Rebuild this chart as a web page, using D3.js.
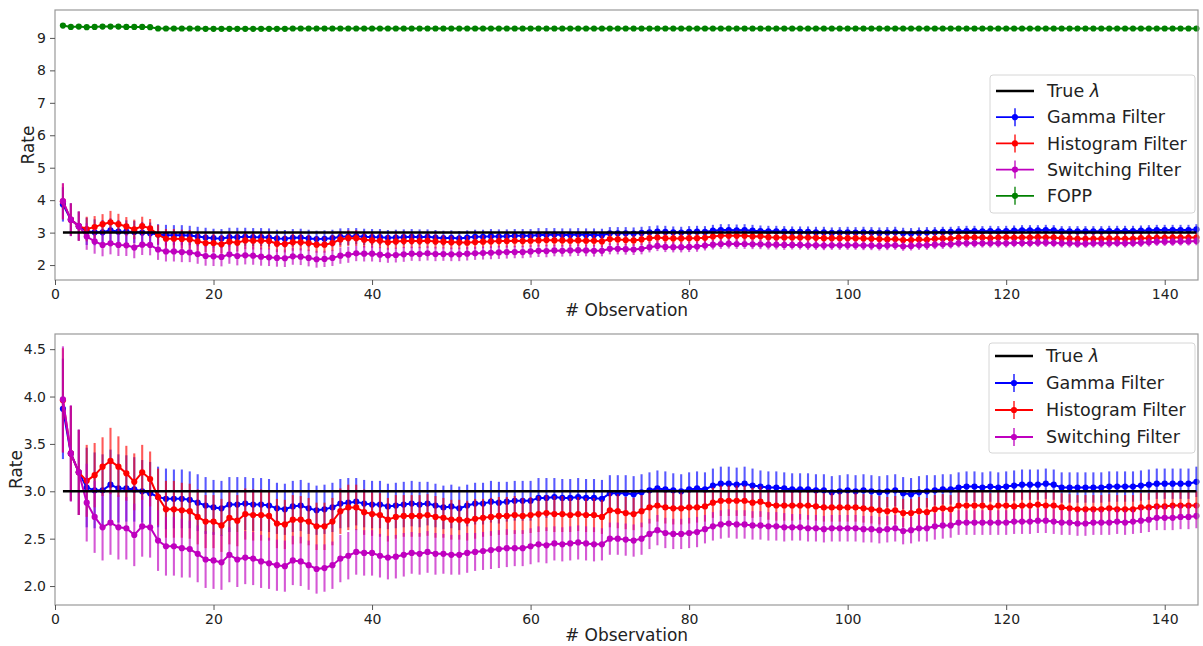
<!DOCTYPE html>
<html>
<head>
<meta charset="utf-8">
<script src="https://cdn.jsdelivr.net/npm/d3@7"></script>
<style>
  body { margin: 0; background: #fff; }
  svg { display: block; font-family: 'DejaVu Sans', sans-serif; }
</style>
</head>
<body>
<div id="chart"></div>
<script>
// Observation index (x axis)
const obs = d3.range(1, 145)

const trueLambda = 3.0

// Gamma filter mean and half error bar
const gammaMean = [
  3.87, 3.40, 3.20, 3.04, 3.01, 3.01, 3.07, 3.03, 3.03, 3.02, 3.00, 2.98,
  2.94, 2.92, 2.92, 2.92, 2.91, 2.88, 2.85, 2.83, 2.82, 2.86, 2.86, 2.87,
  2.86, 2.86, 2.85, 2.82, 2.81, 2.84, 2.85, 2.82, 2.80, 2.81, 2.83, 2.87,
  2.88, 2.89, 2.87, 2.86, 2.86, 2.84, 2.85, 2.86, 2.87, 2.86, 2.87, 2.85,
  2.83, 2.84, 2.82, 2.85, 2.87, 2.87, 2.89, 2.88, 2.89, 2.90, 2.90, 2.90,
  2.93, 2.93, 2.94, 2.93, 2.93, 2.94, 2.93, 2.93, 2.92, 2.98, 2.98, 2.98,
  2.97, 2.99, 3.01, 3.03, 3.02, 3.01, 3.00, 3.02, 3.03, 3.02, 3.06, 3.08,
  3.08, 3.07, 3.08, 3.06, 3.05, 3.04, 3.04, 3.03, 3.02, 3.02, 3.02, 3.01,
  3.01, 2.99, 3.00, 3.01, 3.00, 3.01, 3.00, 2.99, 3.00, 3.01, 2.98, 2.97,
  2.99, 3.00, 3.01, 3.02, 3.02, 3.04, 3.05, 3.05, 3.04, 3.05, 3.04, 3.05,
  3.06, 3.07, 3.07, 3.07, 3.08, 3.07, 3.04, 3.04, 3.04, 3.04, 3.04, 3.04,
  3.05, 3.05, 3.05, 3.05, 3.06, 3.07, 3.08, 3.08, 3.08, 3.08, 3.08, 3.10
]
const gammaErr = [
  0.53, 0.50, 0.45, 0.42, 0.40, 0.38, 0.37, 0.36, 0.35, 0.34, 0.33, 0.33,
  0.32, 0.32, 0.31, 0.31, 0.30, 0.30, 0.30, 0.29, 0.29, 0.29, 0.29, 0.28,
  0.28, 0.28, 0.28, 0.27, 0.27, 0.27, 0.27, 0.27, 0.26, 0.26, 0.26, 0.26,
  0.26, 0.25, 0.25, 0.25, 0.25, 0.24, 0.24, 0.24, 0.24, 0.24, 0.23, 0.23,
  0.23, 0.23, 0.23, 0.22, 0.22, 0.22, 0.22, 0.22, 0.21, 0.21, 0.21, 0.21,
  0.21, 0.21, 0.20, 0.20, 0.20, 0.20, 0.20, 0.20, 0.20, 0.19, 0.19, 0.19,
  0.19, 0.19, 0.19, 0.19, 0.19, 0.18, 0.18, 0.18, 0.18, 0.18, 0.18, 0.18,
  0.18, 0.18, 0.18, 0.18, 0.17, 0.17, 0.17, 0.17, 0.17, 0.17, 0.17, 0.17,
  0.17, 0.17, 0.17, 0.17, 0.17, 0.17, 0.17, 0.17, 0.17, 0.17, 0.17, 0.17,
  0.17, 0.17, 0.16, 0.16, 0.16, 0.16, 0.16, 0.16, 0.16, 0.16, 0.16, 0.16,
  0.16, 0.16, 0.16, 0.16, 0.16, 0.16, 0.16, 0.16, 0.16, 0.16, 0.16, 0.16,
  0.16, 0.16, 0.16, 0.16, 0.16, 0.16, 0.16, 0.16, 0.16, 0.16, 0.16, 0.16
]

// Histogram filter
const histMean = [
  3.96, 3.40, 3.20, 3.11, 3.17, 3.26, 3.32, 3.26, 3.19, 3.10, 3.20, 3.13,
  2.94, 2.81, 2.81, 2.80, 2.79, 2.73, 2.68, 2.68, 2.64, 2.72, 2.69, 2.76,
  2.75, 2.75, 2.74, 2.66, 2.65, 2.70, 2.70, 2.68, 2.63, 2.63, 2.68, 2.79,
  2.83, 2.83, 2.78, 2.76, 2.75, 2.70, 2.73, 2.74, 2.74, 2.74, 2.75, 2.73,
  2.72, 2.70, 2.70, 2.69, 2.71, 2.72, 2.73, 2.74, 2.74, 2.75, 2.74, 2.75,
  2.76, 2.77, 2.76, 2.76, 2.75, 2.76, 2.75, 2.75, 2.73, 2.80, 2.79, 2.77,
  2.76, 2.79, 2.83, 2.85, 2.83, 2.82, 2.82, 2.83, 2.83, 2.84, 2.88, 2.90,
  2.90, 2.90, 2.90, 2.88, 2.89, 2.86, 2.85, 2.85, 2.85, 2.85, 2.85, 2.84,
  2.83, 2.83, 2.83, 2.83, 2.83, 2.82, 2.81, 2.80, 2.79, 2.80, 2.77, 2.77,
  2.79, 2.78, 2.81, 2.82, 2.81, 2.85, 2.85, 2.85, 2.85, 2.83, 2.85, 2.85,
  2.84, 2.85, 2.85, 2.86, 2.85, 2.85, 2.83, 2.82, 2.81, 2.81, 2.81, 2.81,
  2.82, 2.81, 2.81, 2.81, 2.83, 2.83, 2.84, 2.84, 2.85, 2.85, 2.85, 2.85
]
const histErr = [
  0.55, 0.50, 0.45, 0.38, 0.34, 0.31, 0.35, 0.32, 0.29, 0.30, 0.29, 0.29,
  0.30, 0.30, 0.30, 0.29, 0.29, 0.29, 0.28, 0.28, 0.28, 0.28, 0.27, 0.27,
  0.27, 0.27, 0.26, 0.26, 0.26, 0.26, 0.25, 0.25, 0.25, 0.25, 0.25, 0.24,
  0.24, 0.24, 0.24, 0.23, 0.23, 0.23, 0.23, 0.22, 0.22, 0.22, 0.22, 0.22,
  0.21, 0.21, 0.21, 0.21, 0.21, 0.20, 0.20, 0.20, 0.20, 0.20, 0.19, 0.19,
  0.19, 0.19, 0.19, 0.19, 0.18, 0.18, 0.18, 0.18, 0.18, 0.18, 0.18, 0.17,
  0.17, 0.17, 0.17, 0.17, 0.17, 0.17, 0.17, 0.17, 0.16, 0.16, 0.16, 0.16,
  0.16, 0.16, 0.16, 0.16, 0.16, 0.16, 0.16, 0.16, 0.16, 0.15, 0.15, 0.15,
  0.15, 0.15, 0.15, 0.15, 0.15, 0.15, 0.15, 0.15, 0.15, 0.15, 0.15, 0.15,
  0.15, 0.15, 0.15, 0.15, 0.15, 0.15, 0.15, 0.15, 0.15, 0.15, 0.15, 0.15,
  0.15, 0.15, 0.15, 0.15, 0.15, 0.15, 0.15, 0.15, 0.15, 0.15, 0.15, 0.15,
  0.15, 0.15, 0.15, 0.15, 0.15, 0.15, 0.15, 0.15, 0.15, 0.15, 0.15, 0.15
]

// Switching filter
const switchMean = [
  3.97, 3.40, 3.20, 2.88, 2.73, 2.62, 2.67, 2.62, 2.61, 2.54, 2.63, 2.62,
  2.48, 2.42, 2.42, 2.40, 2.39, 2.34, 2.28, 2.27, 2.25, 2.33, 2.28, 2.30,
  2.29, 2.26, 2.24, 2.22, 2.21, 2.27, 2.26, 2.22, 2.18, 2.19, 2.22, 2.29,
  2.32, 2.36, 2.35, 2.35, 2.32, 2.30, 2.31, 2.33, 2.35, 2.34, 2.36, 2.34,
  2.34, 2.33, 2.33, 2.35, 2.36, 2.37, 2.38, 2.39, 2.40, 2.40, 2.40, 2.42,
  2.44, 2.43, 2.45, 2.44, 2.45, 2.46, 2.45, 2.44, 2.44, 2.50, 2.50, 2.49,
  2.48, 2.50, 2.55, 2.59, 2.56, 2.55, 2.55, 2.56, 2.57, 2.60, 2.63, 2.65,
  2.66, 2.65, 2.65, 2.64, 2.64, 2.63, 2.63, 2.62, 2.62, 2.62, 2.61, 2.61,
  2.60, 2.61, 2.61, 2.61, 2.61, 2.60, 2.60, 2.59, 2.60, 2.61, 2.58, 2.59,
  2.61, 2.61, 2.63, 2.64, 2.64, 2.67, 2.67, 2.67, 2.67, 2.67, 2.67, 2.67,
  2.68, 2.68, 2.68, 2.69, 2.69, 2.68, 2.67, 2.67, 2.66, 2.66, 2.67, 2.67,
  2.67, 2.68, 2.67, 2.68, 2.69, 2.70, 2.72, 2.72, 2.72, 2.73, 2.73, 2.74
]
const switchErr = [
  0.56, 0.51, 0.45, 0.41, 0.38, 0.35, 0.34, 0.34, 0.33, 0.33, 0.32, 0.32,
  0.32, 0.31, 0.31, 0.31, 0.30, 0.30, 0.30, 0.30, 0.29, 0.29, 0.29, 0.28,
  0.28, 0.28, 0.27, 0.27, 0.27, 0.26, 0.26, 0.26, 0.26, 0.25, 0.25, 0.25,
  0.25, 0.24, 0.24, 0.24, 0.23, 0.23, 0.23, 0.23, 0.22, 0.22, 0.22, 0.22,
  0.21, 0.21, 0.21, 0.21, 0.20, 0.20, 0.20, 0.20, 0.20, 0.19, 0.19, 0.19,
  0.19, 0.19, 0.18, 0.18, 0.18, 0.18, 0.18, 0.18, 0.17, 0.17, 0.17, 0.17,
  0.17, 0.17, 0.16, 0.16, 0.16, 0.16, 0.16, 0.16, 0.16, 0.15, 0.15, 0.15,
  0.15, 0.15, 0.15, 0.15, 0.15, 0.15, 0.15, 0.15, 0.14, 0.14, 0.14, 0.14,
  0.14, 0.14, 0.14, 0.14, 0.14, 0.14, 0.14, 0.14, 0.14, 0.14, 0.14, 0.14,
  0.14, 0.14, 0.14, 0.14, 0.13, 0.13, 0.13, 0.13, 0.13, 0.13, 0.13, 0.13,
  0.13, 0.13, 0.13, 0.13, 0.13, 0.13, 0.13, 0.13, 0.13, 0.13, 0.13, 0.13,
  0.13, 0.13, 0.13, 0.13, 0.13, 0.13, 0.13, 0.13, 0.13, 0.13, 0.13, 0.13
]

// FOPP (top panel only)
const foppMean = [
  9.38, 9.34, 9.35, 9.33, 9.34, 9.35, 9.35, 9.35, 9.34, 9.34, 9.34, 9.33,
  9.29, 9.29, 9.29, 9.29, 9.29, 9.29, 9.28, 9.28, 9.28, 9.28, 9.28, 9.28,
  9.28, 9.28, 9.28, 9.28, 9.28, 9.29, 9.29, 9.29, 9.29, 9.29, 9.29, 9.29,
  9.29, 9.29, 9.29, 9.29, 9.29, 9.29, 9.29, 9.29, 9.29, 9.29, 9.29, 9.29,
  9.29, 9.29, 9.29, 9.29, 9.29, 9.29, 9.29, 9.29, 9.29, 9.29, 9.29, 9.29,
  9.29, 9.29, 9.29, 9.29, 9.29, 9.29, 9.29, 9.29, 9.29, 9.29, 9.29, 9.29,
  9.29, 9.29, 9.29, 9.29, 9.29, 9.29, 9.29, 9.29, 9.29, 9.29, 9.29, 9.29,
  9.29, 9.29, 9.29, 9.29, 9.29, 9.29, 9.29, 9.29, 9.29, 9.29, 9.29, 9.29,
  9.29, 9.29, 9.29, 9.29, 9.29, 9.29, 9.29, 9.29, 9.29, 9.29, 9.29, 9.29,
  9.29, 9.29, 9.29, 9.29, 9.29, 9.29, 9.29, 9.29, 9.29, 9.29, 9.29, 9.29,
  9.29, 9.29, 9.29, 9.29, 9.29, 9.29, 9.29, 9.29, 9.29, 9.29, 9.29, 9.29,
  9.29, 9.29, 9.29, 9.29, 9.29, 9.29, 9.29, 9.29, 9.29, 9.29, 9.29, 9.29
]
const foppErr = obs.map(() => 0.07)

const seriesNames = ['Gamma Filter', 'Histogram Filter', 'Switching Filter', 'FOPP']
const seriesColors = ['#0000ff', '#ff0000', '#bf00bf', '#008000']

const xTicks = [0, 20, 40, 60, 80, 100, 120, 140]
const topYTicks = [2, 3, 4, 5, 6, 7, 8, 9]
const bottomYTicks = [2.0, 2.5, 3.0, 3.5, 4.0, 4.5]

const width = 1203
const height = 646

const svg = d3.select('#chart').append('svg')
  .attr('width', width)
  .attr('height', height)

function makeSeries (names, means, errs) {
  return names.map((name, k) => ({
    name: name,
    color: seriesColors[seriesNames.indexOf(name)],
    data: obs.map((x, i) => ({ x: x, y: means[k][i], e: errs[k][i] }))
  }))
}

function drawPanel (p) {
  const g = svg.append('g')

  const x = d3.scaleLinear().domain([0, 144.2]).range([p.left, p.right])
  const y = d3.scaleLinear().domain(p.yDomain).range([p.bottom, p.top])

  // series: error bars, line, markers
  p.series.forEach(s => {
    const sg = g.append('g')
    sg.selectAll('line.err')
      .data(s.data)
      .enter().append('line')
      .attr('class', 'err')
      .attr('x1', d => x(d.x)).attr('x2', d => x(d.x))
      .attr('y1', d => y(d.y - d.e)).attr('y2', d => y(d.y + d.e))
      .attr('stroke', s.color)
      .attr('stroke-opacity', 0.65)
      .attr('stroke-width', 2.1)

    const line = d3.line().x(d => x(d.x)).y(d => y(d.y))
    sg.append('path')
      .datum(s.data)
      .attr('d', line)
      .attr('fill', 'none')
      .attr('stroke', s.color)
      .attr('stroke-width', 2)

    sg.selectAll('circle')
      .data(s.data)
      .enter().append('circle')
      .attr('cx', d => x(d.x))
      .attr('cy', d => y(d.y))
      .attr('r', 3.1)
      .attr('fill', s.color)
  })

  // true lambda
  g.append('line')
    .attr('x1', x(obs[0])).attr('x2', x(obs[obs.length - 1]))
    .attr('y1', y(trueLambda)).attr('y2', y(trueLambda))
    .attr('stroke', '#000')
    .attr('stroke-width', 2.5)

  // axes frame
  g.append('rect')
    .attr('x', p.left).attr('y', p.top)
    .attr('width', p.right - p.left).attr('height', p.bottom - p.top)
    .attr('fill', 'none')
    .attr('stroke', '#999')
    .attr('stroke-width', 1.2)

  const xAxis = d3.axisBottom(x).tickValues(xTicks).tickSize(5).tickPadding(4)
  const gx = g.append('g')
    .attr('transform', 'translate(0,' + p.bottom + ')')
    .call(xAxis)
  const yAxis = d3.axisLeft(y).tickValues(p.yTicks).tickFormat(p.yFormat).tickSize(5).tickPadding(4)
  const gy = g.append('g')
    .attr('transform', 'translate(' + p.left + ',0)')
    .call(yAxis)
  ;[gx, gy].forEach(a => {
    a.select('.domain').remove()
    a.selectAll('line').attr('stroke', '#555')
    a.selectAll('text').attr('fill', '#222').style('font-size', '14px')
      .style('font-family', "'DejaVu Sans', sans-serif")
  })

  g.append('text')
    .attr('x', (p.left + p.right) / 2)
    .attr('y', p.bottom + 36)
    .attr('text-anchor', 'middle')
    .attr('fill', '#222')
    .style('font-size', '17px')
    .text('# Observation')

  g.append('text')
    .attr('transform', 'translate(' + p.yLabelX + ',' + (p.top + p.bottom) / 2 + ') rotate(-90)')
    .attr('text-anchor', 'middle')
    .attr('fill', '#222')
    .style('font-size', '17px')
    .text('Rate')

  // legend
  const lg = g.append('g').attr('transform', 'translate(' + p.legend.x + ',' + p.legend.y + ')')
  const items = [{ name: 'True', color: '#000', plain: true }].concat(p.series)
  lg.append('rect')
    .attr('width', p.legend.w).attr('height', p.legend.h)
    .attr('rx', 3)
    .attr('fill', '#fff').attr('fill-opacity', 0.85)
    .attr('stroke', '#d6d6d6')
  const row = lg.selectAll('g.item')
    .data(items)
    .enter().append('g')
    .attr('class', 'item')
    .attr('transform', (d, i) => 'translate(0,' + (p.legend.first + i * p.legend.step) + ')')
  row.append('line')
    .attr('x1', 6).attr('x2', 44)
    .attr('stroke', d => d.color)
    .attr('stroke-width', d => d.plain ? 2.5 : 1.8)
  row.filter(d => !d.plain).append('line')
    .attr('x1', 25).attr('x2', 25).attr('y1', -9).attr('y2', 9)
    .attr('stroke', d => d.color).attr('stroke-opacity', 0.65)
    .attr('stroke-width', 2)
  row.filter(d => !d.plain).append('circle')
    .attr('cx', 25).attr('r', 3.1)
    .attr('fill', d => d.color)
  const label = row.append('text')
    .attr('x', 57).attr('dy', '0.35em')
    .attr('fill', '#222')
    .style('font-size', '17.5px')
  label.filter(d => d.plain).each(function () {
    d3.select(this).append('tspan').text('True ')
    d3.select(this).append('tspan').style('font-style', 'italic').text('λ')
  })
  label.filter(d => !d.plain).text(d => d.name)
}

const topSeries = makeSeries(seriesNames,
  [gammaMean, histMean, switchMean, foppMean],
  [gammaErr, histErr, switchErr, foppErr])
const bottomSeries = makeSeries(seriesNames.slice(0, 3),
  [gammaMean, histMean, switchMean],
  [gammaErr, histErr, switchErr])

drawPanel({
  left: 55, right: 1198, top: 10, bottom: 280,
  yDomain: [1.54, 9.86], yTicks: topYTicks, yFormat: d3.format('d'),
  yLabelX: 34,
  series: topSeries,
  legend: { x: 990, y: 75, w: 205, h: 138, first: 16, step: 26.2 }
})

drawPanel({
  left: 55, right: 1198, top: 334, bottom: 605,
  yDomain: [1.80, 4.66], yTicks: bottomYTicks, yFormat: d3.format('.1f'),
  yLabelX: 22,
  series: bottomSeries,
  legend: { x: 989, y: 343, w: 206, h: 110, first: 13, step: 27 }
})
</script>
</body>
</html>
